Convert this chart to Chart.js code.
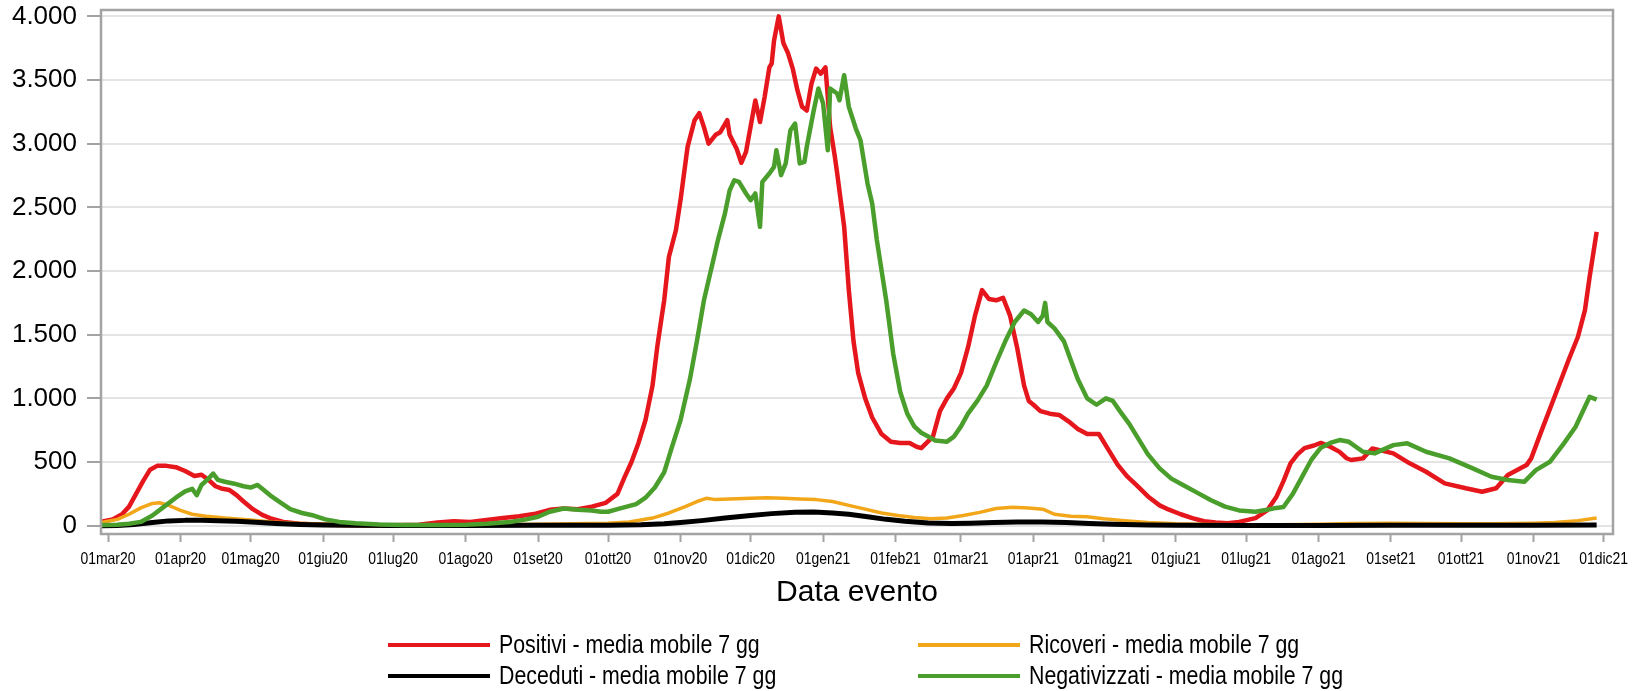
<!DOCTYPE html>
<html>
<head>
<meta charset="utf-8">
<script src="https://cdn.jsdelivr.net/npm/chart.js@4.4.0/dist/chart.umd.min.js"></script>
<style>
  html, body { margin: 0; padding: 0; background: #fff; }
  canvas { display: block; }
</style>
</head>
<body>
<canvas id="grafico" width="1643" height="691"></canvas>
<script>
// --- dati (media mobile 7 gg) ---
const positiviDate = ["2020-02-27","2020-03-03","2020-03-07","2020-03-10","2020-03-13","2020-03-16","2020-03-19","2020-03-22","2020-03-26","2020-03-30","2020-04-03","2020-04-07","2020-04-10","2020-04-13","2020-04-16","2020-04-19","2020-04-22","2020-04-25","2020-04-28","2020-05-02","2020-05-06","2020-05-10","2020-05-15","2020-05-22","2020-06-01","2020-06-15","2020-07-01","2020-07-12","2020-07-20","2020-07-27","2020-08-03","2020-08-10","2020-08-17","2020-08-24","2020-08-31","2020-09-06","2020-09-12","2020-09-18","2020-09-24","2020-09-30","2020-10-05","2020-10-08","2020-10-11","2020-10-14","2020-10-17","2020-10-20","2020-10-22","2020-10-24","2020-10-25","2020-10-27","2020-10-30","2020-11-01","2020-11-04","2020-11-07","2020-11-09","2020-11-11","2020-11-13","2020-11-16","2020-11-18","2020-11-21","2020-11-22","2020-11-25","2020-11-27","2020-11-29","2020-12-03","2020-12-05","2020-12-07","2020-12-09","2020-12-10","2020-12-11","2020-12-13","2020-12-15","2020-12-17","2020-12-19","2020-12-21","2020-12-23","2020-12-25","2020-12-27","2020-12-29","2020-12-31","2021-01-02","2021-01-03","2021-01-04","2021-01-06","2021-01-07","2021-01-10","2021-01-12","2021-01-14","2021-01-16","2021-01-19","2021-01-22","2021-01-26","2021-01-30","2021-02-03","2021-02-07","2021-02-10","2021-02-12","2021-02-17","2021-02-20","2021-02-23","2021-02-26","2021-03-01","2021-03-04","2021-03-07","2021-03-10","2021-03-13","2021-03-16","2021-03-19","2021-03-22","2021-03-25","2021-03-28","2021-03-30","2021-04-01","2021-04-04","2021-04-08","2021-04-12","2021-04-16","2021-04-20","2021-04-24","2021-04-29","2021-05-03","2021-05-07","2021-05-11","2021-05-15","2021-05-20","2021-05-25","2021-05-29","2021-06-03","2021-06-08","2021-06-13","2021-06-18","2021-06-23","2021-06-28","2021-07-05","2021-07-10","2021-07-14","2021-07-17","2021-07-20","2021-07-23","2021-07-26","2021-07-30","2021-08-02","2021-08-06","2021-08-10","2021-08-13","2021-08-15","2021-08-20","2021-08-24","2021-09-02","2021-09-09","2021-09-16","2021-09-24","2021-10-03","2021-10-10","2021-10-16","2021-10-21","2021-10-29","2021-10-31","2021-11-04","2021-11-10","2021-11-16","2021-11-20","2021-11-23","2021-11-25","2021-11-28"];
const positiviValori = [30,50,90,150,250,350,440,470,470,460,430,390,400,360,310,290,280,240,190,130,85,55,30,15,8,4,3,8,25,35,30,45,60,75,95,125,135,130,150,180,250,380,500,650,830,1100,1400,1650,1770,2110,2320,2560,2975,3185,3240,3130,3000,3070,3090,3185,3070,2960,2850,2935,3340,3170,3370,3600,3630,3810,4000,3790,3710,3590,3420,3290,3260,3470,3590,3550,3600,3370,3130,2900,2770,2350,1850,1450,1200,1000,850,720,660,650,650,620,610,700,900,1000,1080,1200,1400,1650,1850,1780,1770,1790,1650,1400,1100,980,950,900,880,870,820,760,720,720,600,480,390,320,230,160,126,90,60,35,25,20,30,60,120,228,350,490,560,610,630,650,620,580,530,516,529,607,568,490,424,333,294,267,294,398,476,529,725,1013,1301,1484,1693,1954,2308];

const negativizzatiDate = ["2020-02-27","2020-03-05","2020-03-10","2020-03-15","2020-03-20","2020-03-25","2020-03-30","2020-04-03","2020-04-06","2020-04-08","2020-04-10","2020-04-13","2020-04-15","2020-04-17","2020-04-20","2020-04-24","2020-04-28","2020-05-01","2020-05-04","2020-05-06","2020-05-10","2020-05-14","2020-05-18","2020-05-23","2020-05-28","2020-06-02","2020-06-08","2020-06-15","2020-06-25","2020-07-05","2020-07-20","2020-08-01","2020-08-10","2020-08-20","2020-08-27","2020-09-01","2020-09-06","2020-09-12","2020-09-18","2020-09-24","2020-09-28","2020-10-01","2020-10-05","2020-10-09","2020-10-13","2020-10-17","2020-10-21","2020-10-25","2020-10-28","2020-11-01","2020-11-05","2020-11-08","2020-11-11","2020-11-15","2020-11-17","2020-11-20","2020-11-22","2020-11-24","2020-11-26","2020-11-29","2020-12-01","2020-12-03","2020-12-05","2020-12-06","2020-12-09","2020-12-11","2020-12-12","2020-12-14","2020-12-16","2020-12-18","2020-12-20","2020-12-22","2020-12-24","2020-12-25","2020-12-28","2020-12-30","2021-01-01","2021-01-03","2021-01-04","2021-01-07","2021-01-08","2021-01-10","2021-01-12","2021-01-15","2021-01-17","2021-01-20","2021-01-22","2021-01-24","2021-01-28","2021-01-31","2021-02-03","2021-02-06","2021-02-09","2021-02-12","2021-02-15","2021-02-18","2021-02-23","2021-02-26","2021-03-01","2021-03-04","2021-03-08","2021-03-12","2021-03-16","2021-03-20","2021-03-24","2021-03-28","2021-03-31","2021-04-03","2021-04-05","2021-04-06","2021-04-07","2021-04-10","2021-04-14","2021-04-17","2021-04-20","2021-04-24","2021-04-28","2021-05-02","2021-05-05","2021-05-08","2021-05-12","2021-05-16","2021-05-20","2021-05-25","2021-05-30","2021-06-04","2021-06-10","2021-06-16","2021-06-22","2021-06-28","2021-07-05","2021-07-10","2021-07-14","2021-07-17","2021-07-21","2021-07-25","2021-07-29","2021-08-02","2021-08-06","2021-08-10","2021-08-14","2021-08-20","2021-08-25","2021-09-02","2021-09-08","2021-09-16","2021-09-26","2021-10-06","2021-10-14","2021-10-21","2021-10-28","2021-11-02","2021-11-08","2021-11-14","2021-11-19","2021-11-23","2021-11-25","2021-11-28"];
const negativizzatiValori = [5,8,15,30,80,150,220,270,290,240,320,370,410,360,345,330,310,300,320,290,230,180,130,100,80,50,30,20,10,5,5,8,15,30,50,70,110,135,125,120,110,110,130,150,170,220,300,420,600,830,1150,1450,1770,2085,2243,2453,2633,2713,2700,2609,2557,2609,2347,2700,2766,2818,2949,2753,2845,3106,3158,2845,2857,2975,3263,3433,3316,2949,3433,3394,3341,3538,3289,3119,3027,2688,2531,2243,1770,1350,1050,880,780,730,700,670,660,700,780,880,980,1100,1280,1450,1600,1690,1660,1600,1650,1750,1600,1550,1450,1300,1150,1000,950,1000,980,900,800,680,560,450,370,320,260,200,150,120,110,125,140,147,250,385,520,613,650,673,659,581,568,633,647,581,529,450,385,359,345,437,502,647,777,934,1013,990];

const ricoveriDate = ["2020-02-27","2020-03-05","2020-03-10","2020-03-15","2020-03-20","2020-03-23","2020-03-27","2020-04-01","2020-04-06","2020-04-12","2020-04-20","2020-05-01","2020-05-10","2020-05-20","2020-06-01","2020-06-15","2020-07-01","2020-08-01","2020-09-01","2020-09-15","2020-10-01","2020-10-10","2020-10-20","2020-10-27","2020-11-03","2020-11-08","2020-11-12","2020-11-16","2020-11-22","2020-12-01","2020-12-08","2020-12-15","2020-12-22","2020-12-29","2021-01-05","2021-01-12","2021-01-19","2021-01-26","2021-02-02","2021-02-09","2021-02-16","2021-02-23","2021-03-02","2021-03-09","2021-03-16","2021-03-23","2021-03-30","2021-04-05","2021-04-10","2021-04-17","2021-04-24","2021-05-01","2021-05-10","2021-05-20","2021-06-01","2021-06-15","2021-07-01","2021-07-15","2021-08-01","2021-08-15","2021-09-01","2021-09-15","2021-10-01","2021-10-15","2021-11-01","2021-11-10","2021-11-20","2021-11-28"];
const ricoveriValori = [25,50,90,140,175,180,160,120,90,75,60,45,30,20,12,8,5,6,12,15,20,30,60,100,150,190,215,205,210,215,220,215,210,205,190,160,130,100,80,65,55,60,80,105,135,145,140,130,90,75,70,55,40,25,15,10,8,8,12,18,20,18,15,15,20,25,40,60];

const decedutiDate = ["2020-02-27","2020-03-05","2020-03-12","2020-03-20","2020-03-27","2020-04-03","2020-04-10","2020-04-17","2020-04-25","2020-05-03","2020-05-12","2020-05-22","2020-06-01","2020-06-15","2020-07-01","2020-08-01","2020-09-01","2020-10-01","2020-10-15","2020-10-25","2020-11-01","2020-11-10","2020-11-20","2020-12-01","2020-12-10","2020-12-20","2020-12-28","2021-01-05","2021-01-12","2021-01-20","2021-01-28","2021-02-05","2021-02-15","2021-02-25","2021-03-05","2021-03-15","2021-03-25","2021-04-05","2021-04-15","2021-04-25","2021-05-05","2021-05-20","2021-06-01","2021-07-01","2021-08-01","2021-09-01","2021-10-01","2021-11-01","2021-11-28"];
const decedutiValori = [0,2,10,25,38,42,43,40,35,28,18,10,5,3,2,2,3,4,8,15,25,40,60,80,95,105,108,100,90,70,50,35,22,18,20,25,30,30,25,18,12,6,4,2,2,4,4,3,5];

// tick asse x: primo giorno di ogni mese
const mesiTick = ["2020-03-01","2020-04-01","2020-05-01","2020-06-01","2020-07-01","2020-08-01","2020-09-01","2020-10-01","2020-11-01","2020-12-01","2021-01-01","2021-02-01","2021-03-01","2021-04-01","2021-05-01","2021-06-01","2021-07-01","2021-08-01","2021-09-01","2021-10-01","2021-11-01","2021-12-01"];
const etichetteTick = ["01mar20","01apr20","01mag20","01giu20","01lug20","01ago20","01set20","01ott20","01nov20","01dic20","01gen21","01feb21","01mar21","01apr21","01mag21","01giu21","01lug21","01ago21","01set21","01ott21","01nov21","01dic21"];
const valoriTickY = [0, 500, 1000, 1500, 2000, 2500, 3000, 3500, 4000];

// giorni dal 1 marzo 2020
const ORIGINE = Date.UTC(2020, 2, 1);
function giorno(s) {
    const p = s.split("-");
    return (Date.UTC(+p[0], +p[1] - 1, +p[2]) - ORIGINE) / 86400000;
}
function punti(date, valori) {
    return date.map((d, i) => ({ x: giorno(d), y: valori[i] }));
}
function migliaia(v) {
    return String(v).replace(/\B(?=(\d{3})+(?!\d))/g, ".");
}

const grigioBordo = "#a3a3a3";
const fontStretto = '"Liberation Sans", Arial, sans-serif';
const STRETTO = 0.82; // il carattere originale e' un "narrow"

// bordo completo dell'area del grafico
const cornice = {
    id: "cornice",
    afterDatasetsDraw(chart) {
        const { ctx, chartArea: a } = chart;
        ctx.save();
        ctx.strokeStyle = grigioBordo;
        ctx.lineWidth = 2.5;
        ctx.strokeRect(a.left, a.top, a.right - a.left, a.bottom - a.top);
        ctx.restore();
    }
};

// testo compresso orizzontalmente
function testoStretto(ctx, testo, x, y, allinea) {
    ctx.save();
    ctx.translate(x, y);
    ctx.scale(STRETTO, 1);
    ctx.textAlign = allinea;
    ctx.fillText(testo, 0, 0);
    ctx.restore();
}

// etichette dei mesi sotto l'asse x
const etichetteMesi = {
    id: "etichetteMesi",
    afterDraw(chart) {
        const ctx = chart.ctx;
        const sx = chart.scales.x;
        ctx.save();
        ctx.font = "17px " + fontStretto;
        ctx.fillStyle = "#000";
        ctx.textBaseline = "middle";
        mesiTick.forEach((d, i) => {
            testoStretto(ctx, etichetteTick[i], sx.getPixelForValue(giorno(d)), 559, "center");
        });
        ctx.restore();
    }
};

// legenda su due colonne, come nell'originale
const legenda = {
    id: "legenda",
    afterDraw(chart) {
        const ctx = chart.ctx;
        const colonne = [388, 918];
        const righe = [645, 676];
        ctx.save();
        ctx.font = "26px " + fontStretto;
        ctx.textBaseline = "middle";
        ctx.fillStyle = "#000";
        chart.data.datasets.forEach((ds, i) => {
            const x = colonne[i % 2];
            const y = righe[Math.floor(i / 2)];
            ctx.strokeStyle = ds.borderColor;
            ctx.lineWidth = 4;
            ctx.beginPath();
            ctx.moveTo(x, y);
            ctx.lineTo(x + 102, y);
            ctx.stroke();
            testoStretto(ctx, ds.label, x + 111, y + 1, "left");
        });
        ctx.restore();
    }
};

const ctx = document.getElementById("grafico").getContext("2d");

const grafico = new Chart(ctx, {
    type: "line",
    data: {
        datasets: [
            {
                label: "Positivi - media mobile 7 gg",
                data: punti(positiviDate, positiviValori),
                borderColor: "#e5161c",
                borderWidth: 4.5,
                order: 4
            },
            {
                label: "Ricoveri - media mobile 7 gg",
                data: punti(ricoveriDate, ricoveriValori),
                borderColor: "#f2a71b",
                borderWidth: 3.5,
                order: 3
            },
            {
                label: "Deceduti - media mobile 7 gg",
                data: punti(decedutiDate, decedutiValori),
                borderColor: "#000000",
                borderWidth: 5,
                order: 2
            },
            {
                label: "Negativizzati - media mobile 7 gg",
                data: punti(negativizzatiDate, negativizzatiValori),
                borderColor: "#4a9e2c",
                borderWidth: 4.5,
                order: 1
            }
        ]
    },
    options: {
        responsive: false,
        animation: false,
        devicePixelRatio: 1,
        elements: {
            point: { radius: 0 },
            line: { tension: 0, borderJoinStyle: "round", borderCapStyle: "butt" }
        },
        layout: {
            padding: { top: 10, right: 30, left: 0, bottom: 80 }
        },
        plugins: {
            legend: { display: false },
            tooltip: { enabled: false }
        },
        scales: {
            x: {
                type: "linear",
                min: -3,
                max: 644,
                afterBuildTicks: (scale) => {
                    scale.ticks = mesiTick.map((d) => ({ value: giorno(d) }));
                },
                afterFit: (scale) => {
                    scale.height = 77;
                    scale.paddingLeft = 0;
                    scale.paddingRight = 0;
                },
                ticks: {
                    display: false,
                    autoSkip: false,
                    maxRotation: 0
                },
                grid: {
                    drawOnChartArea: false,
                    tickLength: 8,
                    tickColor: grigioBordo,
                    tickWidth: 2
                },
                border: { display: false },
                title: {
                    display: true,
                    text: "Data evento",
                    color: "#000",
                    padding: { top: 0, bottom: 0 },
                    font: { family: '"Liberation Sans", Arial, sans-serif', size: 30 }
                }
            },
            y: {
                min: -65,
                max: 4050,
                afterBuildTicks: (scale) => {
                    scale.ticks = valoriTickY.map((v) => ({ value: v }));
                },
                afterFit: (scale) => {
                    scale.width = 101;
                    scale.paddingTop = 0;
                    scale.paddingBottom = 0;
                },
                ticks: {
                    padding: 10,
                    color: "#000",
                    font: { family: '"Liberation Sans", Arial, sans-serif', size: 26 },
                    callback: (v) => migliaia(v)
                },
                grid: {
                    color: "#e4e4e4",
                    lineWidth: 2,
                    tickLength: 14,
                    tickColor: grigioBordo,
                    tickWidth: 2
                },
                border: { display: false }
            }
        }
    },
    plugins: [cornice, etichetteMesi, legenda]
});
</script>
</body>
</html>
